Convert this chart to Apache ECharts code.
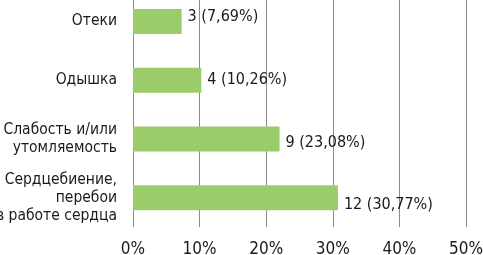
<!DOCTYPE html>
<html>
<head>
<meta charset="utf-8">
<script src="https://cdn.jsdelivr.net/npm/echarts@6/dist/echarts.min.js"></script>
<style>html,body{margin:0;padding:0;background:#fff;}#c{width:483px;height:255px;}</style>
</head>
<body>
<div id="c"></div>
<script>
var categories = ['Отеки', 'Одышка', 'Слабость и/или\nутомляемость', 'Сердцебиение,\nперебои\nв работе сердца'];
var counts = [3, 4, 9, 12];
var percentLabels = ['7,69', '10,26', '23,08', '30,77'];
var barValues = [7.3, 10.26, 22.0, 30.77];
var xTicks = [0, 10, 20, 30, 40, 50];

var FONT = '"DejaVu Sans Condensed", "Liberation Sans Narrow", "Liberation Sans", sans-serif';
var labelOffsets = [[0, -5], [0, 0], [0, 4], [0, 7]];

var chart = echarts.init(document.getElementById('c'), null, {renderer: 'canvas'});
chart.setOption({
  animation: false,
  grid: {left: 133, right: 17, top: -8, height: 235, containLabel: false, outerBoundsMode: 'none'},
  xAxis: {
    type: 'value', min: xTicks[0], max: xTicks[xTicks.length - 1], interval: 10,
    axisLine: {show: false}, axisTick: {show: false},
    splitLine: {show: true, lineStyle: {color: '#8c8c8c', width: 1}},
    axisLabel: {formatter: '{value}%', color: '#1a1a1a', fontSize: 17, fontFamily: FONT, margin: 14}
  },
  yAxis: {
    type: 'category', data: categories, inverse: true,
    axisLine: {show: false}, axisTick: {show: false},
    axisLabel: {color: '#1a1a1a', fontSize: 15.5, fontFamily: FONT, margin: 16, lineHeight: 18, align: 'right'}
  },
  series: [{
    type: 'bar',
    barWidth: 25,
    itemStyle: {color: '#9bcc6a'},
    data: barValues.map(function (v, i) {
      return {
        value: v,
        label: {
          show: true, position: 'right', distance: 6, offset: labelOffsets[i],
          formatter: counts[i] + ' (' + percentLabels[i] + '%)',
          color: '#1a1a1a', fontSize: 16, fontFamily: FONT
        }
      };
    })
  }]
});
</script>
</body>
</html>
